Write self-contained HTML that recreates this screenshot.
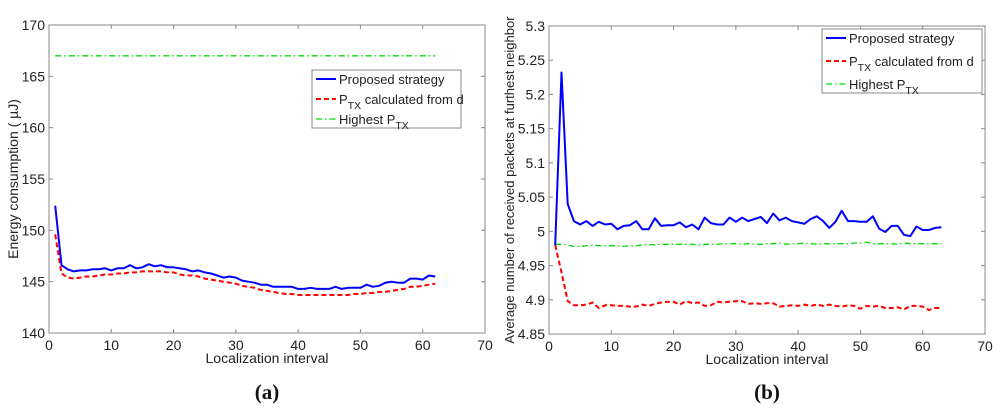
<!DOCTYPE html>
<html><head><meta charset="utf-8">
<style>
html,body{margin:0;padding:0;background:#fff;}
svg{display:block;font-family:"Liberation Sans",Arial,sans-serif;}
</style></head>
<body>
<svg id="fig" width="1000" height="412" viewBox="0 0 1000 412"></svg>
<script>
const xTicks = [0,10,20,30,40,50,60,70];
const aYTicks = [140,145,150,155,160,165,170];
const aBlue = [152.4,146.6,146.2,146.0,146.1,146.1,146.2,146.2,146.3,146.1,146.3,146.3,146.6,146.3,146.4,146.7,146.5,146.6,146.4,146.4,146.3,146.2,146.0,146.1,145.9,145.8,145.6,145.4,145.5,145.4,145.1,145.0,144.9,144.7,144.7,144.5,144.5,144.5,144.5,144.3,144.3,144.4,144.3,144.3,144.3,144.5,144.3,144.4,144.4,144.4,144.7,144.5,144.6,144.9,145.0,144.9,144.9,145.3,145.3,145.2,145.6,145.5];
const aRed = [149.6,145.8,145.4,145.3,145.4,145.5,145.5,145.6,145.7,145.7,145.8,145.8,145.9,145.9,146.0,146.0,146.0,146.0,145.9,145.9,145.7,145.6,145.6,145.5,145.3,145.2,145.1,145.0,144.9,144.8,144.6,144.5,144.4,144.2,144.1,144.0,143.9,143.8,143.8,143.7,143.7,143.7,143.7,143.7,143.7,143.7,143.7,143.7,143.8,143.8,143.9,143.9,144.0,144.0,144.1,144.2,144.3,144.5,144.5,144.6,144.7,144.8];
const aGreen = [167,167,167,167,167,167,167,167,167,167,167,167,167,167,167,167,167,167,167,167,167,167,167,167,167,167,167,167,167,167,167,167,167,167,167,167,167,167,167,167,167,167,167,167,167,167,167,167,167,167,167,167,167,167,167,167,167,167,167,167,167,167];
const bYTicks = [4.85,4.9,4.95,5,5.05,5.1,5.15,5.2,5.25,5.3];
const bYLabels = ["4.85","4.9","4.95","5","5.05","5.1","5.15","5.2","5.25","5.3"];
const bBlue = [4.98,5.232,5.04,5.015,5.01,5.015,5.008,5.014,5.01,5.011,5.003,5.008,5.009,5.015,5.003,5.003,5.019,5.008,5.009,5.009,5.013,5.006,5.01,5.003,5.02,5.012,5.01,5.01,5.02,5.014,5.02,5.015,5.018,5.021,5.012,5.026,5.016,5.02,5.015,5.013,5.011,5.018,5.022,5.015,5.005,5.014,5.03,5.015,5.015,5.014,5.014,5.022,5.004,4.999,5.008,5.008,4.995,4.993,5.007,5.002,5.002,5.005,5.006];
const bRed = [4.98,4.94,4.898,4.892,4.892,4.893,4.896,4.888,4.892,4.892,4.891,4.891,4.89,4.89,4.893,4.891,4.894,4.896,4.897,4.897,4.893,4.898,4.895,4.896,4.891,4.892,4.897,4.896,4.897,4.898,4.898,4.894,4.895,4.894,4.895,4.895,4.89,4.891,4.892,4.891,4.893,4.891,4.893,4.891,4.893,4.891,4.89,4.892,4.891,4.887,4.891,4.89,4.891,4.888,4.888,4.889,4.886,4.891,4.891,4.89,4.885,4.888,4.888];
const bGreen = [4.981,4.981,4.98,4.978,4.978,4.979,4.98,4.979,4.979,4.979,4.979,4.978,4.979,4.979,4.98,4.981,4.98,4.981,4.981,4.981,4.981,4.981,4.981,4.98,4.981,4.981,4.981,4.982,4.982,4.982,4.981,4.982,4.981,4.981,4.982,4.982,4.983,4.981,4.982,4.982,4.983,4.982,4.981,4.982,4.982,4.982,4.982,4.982,4.983,4.983,4.984,4.982,4.982,4.982,4.982,4.981,4.983,4.982,4.982,4.982,4.982,4.982,4.982];

const NS="http://www.w3.org/2000/svg";
const svg=document.getElementById('fig');
function mk(tag,attrs,parent){const e=document.createElementNS(NS,tag);for(const k in attrs)e.setAttribute(k,attrs[k]);(parent||svg).appendChild(e);return e;}

function chart(cfg){
  const g=mk('g',{});
  
  
  const L=cfg.x0,R=cfg.x1,T=cfg.y0,B=cfg.y1;
  const xs=v=>L+(v-0)/(70-0)*(R-L);
  const ymin=cfg.yt[0],ymax=cfg.yt[cfg.yt.length-1];
  const ys=v=>B-(v-ymin)/(ymax-ymin)*(B-T);
  const frame=mk('rect',{x:L,y:T,width:R-L,height:B-T,fill:'none',stroke:'#888','stroke-width':1},g);
  
  
  xTicks.forEach(t=>{
    const x=xs(t);
    mk('line',{x1:x,x2:x,y1:B,y2:B-4,stroke:'#888'},g);
    mk('line',{x1:x,x2:x,y1:T,y2:T+4,stroke:'#888'},g);
    const tx=mk('text',{x:x,y:B+17,'text-anchor':'middle','font-size':14,fill:'#222'},g);
    tx.textContent=t;
    
    
  });
  cfg.yt.forEach((t,i)=>{
    const y=ys(t);
    mk('line',{x1:L,x2:L+4,y1:y,y2:y,stroke:'#888'},g);
    mk('line',{x1:R,x2:R-4,y1:y,y2:y,stroke:'#888'},g);
    const tx=mk('text',{x:L-4,y:y+5,'text-anchor':'end','font-size':14,fill:'#222'},g);
    tx.textContent=cfg.yl[i];
    
    
  });
  const xt=mk('text',{x:(L+R)/2,y:B+30,'text-anchor':'middle','font-size':14,fill:'#222'},g);
  xt.textContent='Localization interval';
  
  
  const yt=mk('text',{x:0,y:0,'text-anchor':'middle','font-size':cfg.ylfs,fill:'#222',transform:`translate(${cfg.ylx},${(T+B)/2}) rotate(-90)`},g);
  yt.textContent=cfg.ylabel;
  
  
  const series=[[cfg.green,'#00dd00','6,3,1.5,3',1.3,'series-highest-ptx'],[cfg.red,'#ff0000','5,3',2,'series-ptx-from-d'],[cfg.blue,'#0000ff','',2,'series-proposed']];
  series.forEach(s=>{
    const pts=s[0].map((v,i)=>xs(i+1).toFixed(1)+','+ys(v).toFixed(1)).join(' ');
    const p=mk('polyline',{points:pts,fill:'none',stroke:s[1],'stroke-width':s[3],'stroke-dasharray':s[2],'stroke-linejoin':'round'},g);
    
    
  });
  const lg=mk('g',{},g);
  
  
  const lx=cfg.lx,ly=cfg.ly,lw=cfg.lw,lh=cfg.lh;
  mk('rect',{x:lx,y:ly,width:lw,height:lh,fill:'#fff',stroke:'#888'},lg);
  const rows=[['#0000ff','',2,'Proposed strategy',''],['#ff0000','5,3',2,'P','calculated from d'],['#00dd00','6,3,1.5,3',1.3,'Highest P','']];
  const step=(lh-18)/2;
  rows.forEach((r,i)=>{
    const y=ly+9+i*step;
    mk('line',{x1:lx+4,x2:lx+24,y1:y,y2:y,stroke:r[0],'stroke-width':r[2],'stroke-dasharray':r[1]},lg);
    const t=mk('text',{x:lx+27,y:y+5,'font-size':13,fill:'#222'},lg);
    
    
    if(i===0){t.textContent=r[3];}
    else{
      const a=mk('tspan',{},t);a.textContent=r[3];
      const b=mk('tspan',{dy:5,'font-size':10.5},t);b.textContent='TX';
      if(r[4]){const c=mk('tspan',{dy:-5},t);c.textContent=' '+r[4];}
    }
  });
  const cap=mk('text',{x:(L+R)/2,y:399,'text-anchor':'middle','font-size':21,'font-weight':'bold','font-family':'"Liberation Serif",serif',fill:'#111'},g);
  cap.textContent=cfg.cap;
  
  
}
chart({name:'chart-a',x0:49,x1:485,y0:25,y1:333,yt:aYTicks,yl:aYTicks.map(String),blue:aBlue,red:aRed,green:aGreen,ylabel:'Energy consumption ( µJ)',ylx:18,ylfs:14,lx:312,ly:70,lw:149,lh:58,cap:'(a)'});
chart({name:'chart-b',x0:549,x1:985,y0:26,y1:334,yt:bYTicks,yl:bYLabels,blue:bBlue,red:bRed,green:bGreen,ylabel:'Average number of received packets at furthest neighbor',ylx:514,ylfs:13,lx:822,ly:29,lw:160,lh:64,cap:'(b)'});
</script>
</body></html>
